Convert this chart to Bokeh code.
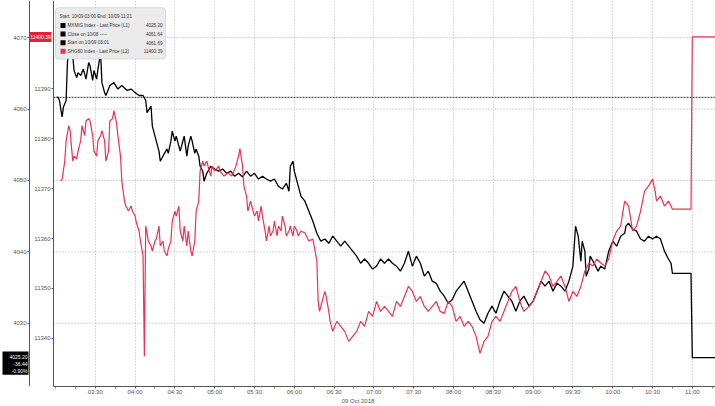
import pandas as pd
from bokeh.plotting import figure
from bokeh.models import (Range1d, LinearAxis, FixedTicker, Label,
                          BoxAnnotation, DatetimeTickFormatter)
from bokeh.embed import file_html
from bokeh.resources import INLINE

DAY = "2018-10-09"
FONT = "Liberation Sans"

# ---------------- legend / header texts ----------------
header_text = "Start: 10/09 03:00 End: 10/09 11:21"
l1_name = "MXMIG Index - Last Price (L1)"
close_name = "Close on 10/08 -----"
start_name = "Start on 10/09 03:01"
l2_name = "SHG80 Index - Last Price (L2)"
l1_last = 4025.20
l1_close = 4061.64
l1_start = 4061.69
l2_last = 11400.39
l1_change = -36.44
l1_pct = -0.90
date_label = "09 Oct 2018"

# ---------------- L1 series (black, outer left axis) ----------------
l1_times = [
    "03:01", "03:02", "03:03", "03:04", "03:05", "03:06", "03:08", "03:09", "03:10", "03:11",
    "03:12", "03:13", "03:14", "03:16", "03:17", "03:19", "03:21", "03:23", "03:25", "03:26",
    "03:28", "03:29", "03:31", "03:32", "03:34", "03:35", "03:37", "03:38", "03:41", "03:44",
    "03:47", "03:50", "03:54", "03:57", "04:00", "04:03", "04:06", "04:08", "04:09", "04:12",
    "04:13", "04:15", "04:18", "04:19", "04:21", "04:24", "04:25", "04:27", "04:28", "04:30",
    "04:31", "04:33", "04:34", "04:36", "04:37", "04:39", "04:40", "04:42", "04:43", "04:45",
    "04:46", "04:48", "04:49", "04:51", "04:52", "04:54", "04:55", "04:57", "05:00", "05:03",
    "05:06", "05:09", "05:12", "05:15", "05:18", "05:21", "05:24", "05:27", "05:30", "05:33",
    "05:36", "05:39", "05:42", "05:45", "05:48", "05:51", "05:54", "05:56", "05:57", "05:59",
    "06:00", "06:02", "06:03", "06:05", "06:08", "06:11", "06:14", "06:17", "06:20", "06:23",
    "06:26", "06:29", "06:32", "06:35", "06:38", "06:41", "06:44", "06:47", "06:50", "06:53",
    "06:56", "06:59", "07:02", "07:05", "07:08", "07:11", "07:14", "07:17", "07:20", "07:23",
    "07:26", "07:29", "07:32", "07:35", "07:38", "07:41", "07:44", "07:47", "07:50", "07:53",
    "07:56", "07:59", "08:02", "08:05", "08:08", "08:11", "08:14", "08:17", "08:20", "08:23",
    "08:26", "08:29", "08:32", "08:35", "08:38", "08:41", "08:44", "08:47", "08:50", "08:53",
    "08:57", "09:00", "09:03", "09:06", "09:09", "09:12", "09:15", "09:18", "09:21", "09:24",
    "09:27", "09:30", "09:32", "09:34", "09:36", "09:37", "09:39", "09:40", "09:42", "09:43",
    "09:46", "09:49", "09:51", "09:54", "09:57", "10:00", "10:03", "10:06", "10:09", "10:10",
    "10:12", "10:15", "10:18", "10:21", "10:24", "10:27", "10:30", "10:33", "10:36", "10:39",
    "10:42", "10:44", "10:45", "10:59", "11:00", "11:21",
]
l1_values = [
    4061.7, 4061.6, 4061.2, 4060.0, 4058.9, 4060.3, 4061.2, 4066.5, 4068.2, 4069.6,
    4069.0, 4067.5, 4065.4, 4064.4, 4065.1, 4064.7, 4065.6, 4064.2, 4066.5, 4066.1,
    4064.0, 4065.4, 4064.2, 4065.6, 4067.9, 4063.7, 4062.3, 4061.9, 4063.3, 4063.7,
    4062.8, 4063.3, 4062.6, 4062.8, 4062.3, 4061.9, 4061.9, 4061.2, 4059.5, 4060.4,
    4057.6, 4056.2, 4054.1, 4052.7, 4053.4, 4054.4, 4053.8, 4055.5, 4056.9, 4055.5,
    4056.2, 4054.8, 4054.1, 4055.5, 4056.2, 4053.4, 4054.8, 4056.2, 4055.5, 4053.8,
    4054.4, 4053.4, 4052.0, 4051.3, 4049.9, 4051.0, 4051.3, 4052.0, 4051.6, 4051.3,
    4051.6, 4051.0, 4051.3, 4050.6, 4051.0, 4050.5, 4051.3, 4050.6, 4051.0, 4050.2,
    4050.6, 4050.2, 4049.9, 4050.2, 4049.2, 4048.8, 4049.6, 4048.5, 4052.0, 4052.7,
    4051.3, 4049.9, 4049.2, 4047.8, 4047.1, 4045.7, 4044.3, 4042.6, 4041.5, 4041.8,
    4041.2, 4042.2, 4041.5, 4040.8, 4041.5, 4040.8, 4040.1, 4039.4, 4038.4, 4039.0,
    4038.4, 4037.6, 4038.0, 4039.0, 4038.4, 4039.0, 4038.4, 4038.0, 4037.3, 4038.4,
    4040.1, 4038.0, 4039.4, 4038.4, 4036.6, 4037.3, 4035.9, 4035.6, 4034.5, 4033.8,
    4032.8, 4033.3, 4034.5, 4035.2, 4035.9, 4034.5, 4033.1, 4031.7, 4030.5, 4030.0,
    4031.4, 4032.4, 4031.4, 4033.1, 4034.5, 4033.8, 4033.1, 4031.7, 4033.1, 4033.8,
    4032.4, 4033.1, 4034.5, 4035.9, 4035.2, 4035.9, 4034.5, 4035.6, 4035.2, 4034.5,
    4035.9, 4038.0, 4043.6, 4042.2, 4038.7, 4041.5, 4040.1, 4036.6, 4037.6, 4039.4,
    4038.4, 4037.3, 4038.0, 4037.6, 4040.1, 4041.5, 4040.8, 4042.2, 4042.6, 4043.6,
    4044.0, 4043.2, 4042.9, 4041.8, 4041.5, 4042.2, 4041.8, 4042.2, 4041.8, 4040.1,
    4039.0, 4038.4, 4037.0, 4037.0, 4025.2, 4025.2,
]

# ---------------- L2 series (red, inner left axis) ----------------
l2_times = [
    "03:04", "03:05", "03:07", "03:08", "03:10", "03:11", "03:13", "03:14", "03:16", "03:17",
    "03:19", "03:20", "03:22", "03:23", "03:25", "03:26", "03:28", "03:29", "03:31", "03:32",
    "03:34", "03:35", "03:37", "03:38", "03:40", "03:41", "03:43", "03:44", "03:46", "03:47",
    "03:49", "03:50", "03:52", "03:53", "03:55", "03:57", "03:58", "04:00", "04:01", "04:03",
    "04:04", "04:06", "04:07", "04:08", "04:10", "04:12", "04:13", "04:15", "04:16", "04:18",
    "04:19", "04:21", "04:22", "04:24", "04:25", "04:27", "04:28", "04:30", "04:31", "04:33",
    "04:34", "04:36", "04:37", "04:39", "04:40", "04:42", "04:43", "04:45", "04:46", "04:48",
    "04:49", "04:51", "04:52", "04:54", "04:55", "04:57", "04:58", "05:00", "05:03", "05:04",
    "05:07", "05:10", "05:13", "05:16", "05:18", "05:19", "05:21", "05:22", "05:24", "05:25",
    "05:27", "05:28", "05:30", "05:32", "05:33", "05:35", "05:36", "05:38", "05:39", "05:41",
    "05:42", "05:44", "05:45", "05:47", "05:48", "05:50", "05:51", "05:53", "05:54", "05:56",
    "05:57", "05:59", "06:00", "06:02", "06:03", "06:05", "06:08", "06:11", "06:14", "06:15",
    "06:17", "06:18", "06:19", "06:20", "06:21", "06:23", "06:24", "06:26", "06:27", "06:29",
    "06:32", "06:35", "06:38", "06:41", "06:44", "06:47", "06:50", "06:53", "06:56", "06:59",
    "07:02", "07:05", "07:08", "07:11", "07:14", "07:17", "07:20", "07:23", "07:26", "07:29",
    "07:32", "07:35", "07:38", "07:41", "07:44", "07:47", "07:50", "07:53", "07:56", "07:59",
    "08:02", "08:05", "08:08", "08:11", "08:14", "08:17", "08:20", "08:23", "08:26", "08:29",
    "08:32", "08:35", "08:38", "08:41", "08:44", "08:47", "08:50", "08:53", "08:57", "09:00",
    "09:03", "09:06", "09:09", "09:12", "09:15", "09:18", "09:21", "09:24", "09:27", "09:30",
    "09:33", "09:36", "09:39", "09:42", "09:45", "09:48", "09:51", "09:54", "09:57", "10:00",
    "10:03", "10:06", "10:09", "10:12", "10:15", "10:18", "10:21", "10:24", "10:27", "10:30",
    "10:32", "10:33", "10:36", "10:39", "10:42", "10:45", "10:59", "11:00", "11:21",
]
l2_values = [
    11371.5, 11371.9, 11375.5, 11379.6, 11382.6, 11381.6, 11375.5, 11376.5, 11375.9, 11377.5,
    11379.6, 11382.6, 11380.6, 11383.6, 11384.0, 11383.6, 11380.6, 11377.5, 11376.5, 11379.6,
    11380.6, 11381.6, 11379.6, 11375.5, 11377.5, 11383.6, 11384.0, 11385.6, 11383.2, 11380.6,
    11376.5, 11371.5, 11367.5, 11366.5, 11365.5, 11366.5, 11365.5, 11364.5, 11363.1, 11361.5,
    11359.5, 11356.5, 11336.4, 11362.5, 11359.5, 11358.5, 11357.5, 11359.5, 11359.9, 11362.5,
    11358.5, 11359.5, 11357.5, 11356.5, 11357.9, 11359.5, 11363.5, 11365.5, 11364.5, 11366.5,
    11361.5, 11359.5, 11362.5, 11358.5, 11361.5, 11357.5, 11356.5, 11359.5, 11365.5, 11367.5,
    11373.5, 11375.5, 11374.5, 11375.5, 11374.5, 11372.5, 11374.5, 11373.5, 11374.5, 11373.5,
    11372.5, 11373.1, 11372.5, 11374.5, 11376.5, 11378.0, 11374.5, 11370.5, 11368.5, 11365.5,
    11367.5, 11366.5, 11364.5, 11365.5, 11363.5, 11366.5, 11364.5, 11361.5, 11359.5, 11362.5,
    11360.5, 11361.5, 11363.5, 11360.5, 11362.5, 11361.5, 11364.5, 11362.5, 11360.5, 11361.5,
    11362.5, 11360.5, 11362.5, 11361.5, 11360.5, 11361.5, 11361.1, 11359.5, 11359.9, 11358.5,
    11355.5, 11347.4, 11345.4, 11346.4, 11347.4, 11349.4, 11348.4, 11345.4, 11343.4, 11341.4,
    11343.4, 11342.4, 11341.4, 11339.4, 11340.4, 11341.4, 11343.4, 11342.4, 11345.4, 11344.4,
    11347.4, 11345.4, 11346.4, 11345.4, 11344.4, 11347.4, 11346.4, 11348.4, 11350.4, 11349.4,
    11347.4, 11348.4, 11346.4, 11345.4, 11346.4, 11347.4, 11345.4, 11345.0, 11347.4, 11346.4,
    11343.4, 11344.4, 11342.4, 11343.4, 11342.4, 11340.4, 11337.0, 11339.4, 11340.4, 11343.4,
    11344.4, 11343.4, 11345.4, 11347.4, 11349.4, 11350.4, 11347.4, 11345.4, 11346.4, 11347.4,
    11349.4, 11351.4, 11353.5, 11352.5, 11350.4, 11351.4, 11352.5, 11350.4, 11347.4, 11349.4,
    11348.4, 11350.4, 11353.5, 11355.1, 11354.5, 11355.9, 11355.1, 11354.5, 11355.9, 11359.5,
    11361.5, 11362.5, 11367.5, 11366.5, 11361.5, 11362.5, 11365.5, 11369.5, 11370.5, 11371.9,
    11369.5, 11367.5, 11368.5, 11366.5, 11367.5, 11365.9, 11365.9, 11400.39, 11400.39,
]
assert len(l1_times) == len(l1_values)
assert len(l2_times) == len(l2_values)

# ---------------- ticks, windows ----------------
x_tick_labels = ["03:30", "04:00", "04:30", "05:00", "05:30", "06:00", "06:30", "07:00",
                 "07:30", "08:00", "08:30", "09:00", "09:30", "10:00", "10:30", "11:00"]
x_minor_ticks = ["03:00", "03:15", "03:45", "04:15", "04:45", "05:15", "05:45", "06:15",
                 "06:45", "07:15", "07:45", "08:15", "08:45", "09:15", "09:45", "10:15",
                 "10:45", "11:15"]
l1_ticks = [4030, 4040, 4050, 4060, 4070]
l2_ticks = [11340, 11350, 11360, 11370, 11380, 11390]
x_window = ("02:18:33", "11:17:29")
inner_axis_at = "02:58:30"
outer_axis_at = "02:40:24"
l1_window = (4021.15, 4075.20)
l2_window = (11330.36, 11407.67)


def ts(t):
    return pd.Timestamp(f"{DAY} {t}")


def ms(t):
    return ts(t).value / 1e6


l1_x = [ts(t) for t in l1_times]
l2_x = [ts(t) for t in l2_times]

p = figure(width=715, height=406, x_axis_type="datetime", output_backend="svg",
           toolbar_location=None,
           x_range=Range1d(ms(x_window[0]), ms(x_window[1])),
           y_range=Range1d(*l2_window),
           min_border_left=0, min_border_right=0, min_border_top=0, min_border_bottom=16)
p.extra_y_ranges = {"l1": Range1d(*l1_window)}
p.outline_line_color = None
p.background_fill_color = "white"
p.border_fill_color = "white"

# axes
xa = p.xaxis[0]
xa.ticker = FixedTicker(ticks=[ms(t) for t in x_tick_labels],
                        minor_ticks=[ms(t) for t in x_minor_ticks])
xa.formatter = DatetimeTickFormatter(minutes="%H:%M", hourmin="%H:%M", hours="%H:%M",
                                     minsec="%H:%M", seconds="%H:%M")
xa.bounds = (ms(inner_axis_at), ms(x_window[1]))
xa.axis_label = date_label
xa.axis_label_text_font = FONT
xa.axis_label_text_font_size = "6px"
xa.axis_label_text_font_style = "normal"
xa.axis_label_text_color = "#555555"
xa.axis_label_standoff = 0

ya = p.yaxis[0]
ya.ticker = FixedTicker(ticks=l2_ticks)
ya.fixed_location = ms(inner_axis_at)
yo = LinearAxis(y_range_name="l1", ticker=FixedTicker(ticks=l1_ticks),
                fixed_location=ms(outer_axis_at))
p.add_layout(yo, "left")

for ax in (xa, ya, yo):
    ax.major_label_text_font = FONT
    ax.major_label_text_font_size = "6px"
    ax.major_label_text_color = "#555555"
    ax.axis_line_color = "#555555"
    ax.major_tick_line_color = "#555555"
    ax.major_tick_out = 2
    ax.major_tick_in = 0
    ax.major_label_standoff = 1
for ax in (ya, yo):
    ax.minor_tick_line_color = None
xa.minor_tick_line_color = "#777777"
xa.minor_tick_out = 2
xa.minor_tick_in = 0
xa.major_label_standoff = 0

# grids
p.ygrid.visible = False
p.xgrid.ticker = xa.ticker
p.xgrid.grid_line_color = "#b5b5b5"
p.xgrid.grid_line_dash = "1 2"
n = len(l1_ticks)
p.segment(x0=[ts(inner_axis_at)] * n, x1=[ts(x_window[1])] * n, y0=l1_ticks, y1=l1_ticks,
          y_range_name="l1", line_color="#a8a8a8", line_dash="1 2", line_width=1)
p.segment(x0=[ts(inner_axis_at)], x1=[ts(x_window[1])], y0=[l1_close], y1=[l1_close],
          y_range_name="l1", line_color="#333333", line_dash="2 1", line_width=1)

# series
p.line(l1_x, l1_values, y_range_name="l1", line_color="black", line_width=1.3)
p.line(l2_x, l2_values, line_color="#f2304f", line_width=1.2)


# ---------------- annotations ----------------
def box(left, right, top, bottom, color, rng="l1", line=None, radius=0):
    p.add_layout(BoxAnnotation(left=left, right=right, top=top, bottom=bottom,
                               left_units="screen", right_units="screen",
                               y_range_name=rng, fill_color=color, fill_alpha=1.0,
                               line_color=line, line_width=1, border_radius=radius))


def lab(x, y, text, color="#333333", align="left", size="4.6px", rng="l1"):
    p.add_layout(Label(x=x, y=y, x_units="screen", y_range_name=rng, text=text,
                       text_font=FONT, text_font_size=size, text_color=color,
                       text_align=align, text_baseline="middle"))


# legend box (y positions on the L1 scale)
box(55, 165, 4074.2, 4067.0, "#ebebeb", line="#9a9a9a", radius=3)
rows_y = [4072.95, 4071.7, 4070.5, 4069.3, 4068.1]
lab(59, rows_y[0], header_text)
legend_rows = [(l1_name, f"{l1_last:.2f}", "black"),
               (close_name, f"{l1_close:.2f}", "black"),
               (start_name, f"{l1_start:.2f}", "black"),
               (l2_name, f"{l2_last:.2f}", "#f2304f")]
for (name, val, col), yy in zip(legend_rows, rows_y[1:]):
    box(60, 65, yy + 0.35, yy - 0.35, col)
    lab(67, yy, name)
    lab(162, yy, val, align="right")

# last-value tag for L2 (red) on the inner axis
box(29, 51, l2_last + 0.95, l2_last - 1.05, "#e8203c", rng="default")
lab(40, l2_last, f"{l2_last:.2f}", color="white", align="center", size="5px", rng="default")

# last-value tag for L1 (black) on the outer axis
box(2, 28, 4026.05, 4022.8, "black")
lab(27, 4025.35, f"{l1_last:.2f}", color="white", align="right", size="5px")
lab(27, 4024.35, f"{l1_change:.2f}", color="white", align="right", size="5px")
lab(27, 4023.35, f"{l1_pct:.2f}%", color="white", align="right", size="5px")

open("out.html", "w").write(file_html(p, INLINE))
